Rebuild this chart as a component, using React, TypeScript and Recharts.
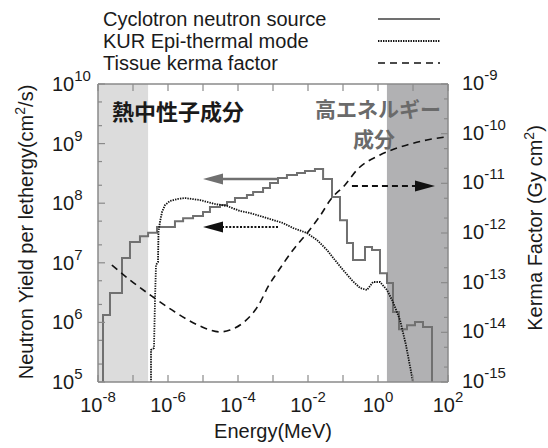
import { LineChart, Line, XAxis, YAxis, ReferenceArea, ReferenceLine } from "recharts";

const FONT = '"Liberation Sans", Arial, Helvetica, sans-serif';
const CJK = '"Noto Sans CJK JP", "Noto Sans CJK SC", sans-serif';
const FRAME = "#8a8a8a";
const FLOOR = 1e4;

const seriesNames = ["Cyclotron neutron source", "KUR Epi-thermal mode", "Tissue kerma factor"];

// cyclotron histogram: bin edges (MeV) and yield per bin
const cyclotronBinEdges = [
  1.39e-8, 2.2e-8, 4.85e-8, 8.2e-8, 1.58e-7, 2.7e-7, 4.85e-7, 1.58e-6, 2.7e-6, 5.2e-6,
  1e-5, 1.58e-5, 3.06e-5, 4.85e-5, 8.2e-5, 1.8e-4, 2.7e-4, 5.2e-4, 8.2e-4, 1.39e-3,
  2.5e-3, 4.85e-3, 8.2e-3, 1.58e-2, 2.7e-2, 4.85e-2, 8.2e-2, 0.13, 0.193, 0.425,
  0.675, 1.14, 1.81, 2.68, 3.98, 6.74, 11.4, 19.3, 34.9,
];
const cyclotronYield = [
  1.33e6, 3.1e6, 1.2e7, 2.23e7, 2.8e7, 3.2e7, 4.0e7, 5.0e7, 5.6e7, 6.1e7,
  7.1e7, 8.6e7, 9.3e7, 1.05e8, 1.22e8, 1.37e8, 1.54e8, 1.8e8, 2.18e8, 2.65e8,
  2.97e8, 3.2e8, 3.47e8, 3.75e8, 2.55e8, 1.27e8, 5.2e7, 2.15e7, 1.11e7, 1.84e7,
  1.64e7, 6.7e6, 4.6e6, 1.49e6, 7.7e5, 9.0e5, 1.02e6, 8.4e5,
];

const kurEnergy = [
  3.27e-7, 3.27e-7, 3.98e-7, 4.25e-7, 4.54e-7, 5.18e-7, 5.35e-7, 5.9e-7, 6.74e-7, 8.2e-7,
  1.14e-6, 1.93e-6, 3.06e-6, 8.2e-6, 2.2e-5, 4.85e-5, 1.14e-4, 2.2e-4, 4.25e-4, 8.2e-4,
  1.93e-3, 3.73e-3, 9.36e-3, 1.8e-2, 3.49e-2, 5.9e-2, 0.1, 0.18, 0.306, 0.485,
  0.72, 1.14, 1.81, 2.68, 4.25, 6.3, 10, 12.2,
];
const kurYield = [
  6e4, 3.44e5, 3.72e5, 2.38e6, 9.2e6, 1.03e7, 3.29e7, 4.84e7, 7.1e7, 9.3e7,
  1.09e8, 1.18e8, 1.22e8, 1.13e8, 9.7e7, 8.98e7, 7.4e7, 6.85e7, 6.1e7, 5.43e7,
  4.65e7, 3.84e7, 3.16e7, 2.41e7, 1.64e7, 1.11e7, 7.6e6, 5.1e6, 3.78e6, 3.5e6,
  4.76e6, 4.76e6, 3.5e6, 2.2e6, 1.1e6, 4.17e5, 1e5, 6e4,
];

const kermaEnergy = [
  2.5e-8, 8.2e-8, 3.73e-7, 1.58e-6, 8.2e-6, 3.06e-5, 5.9e-5, 1.48e-4, 3.73e-4, 7.7e-4,
  1.3e-3, 3.73e-3, 1e-2, 2.2e-2, 4.54e-2, 0.114, 0.25, 1.14, 6.74, 25, 87.7,
];
const kermaFactor = [
  2.27e-13, 1.13e-13, 5.15e-14, 2.57e-14, 1.34e-14, 1.02e-14, 1.11e-14, 1.61e-14, 3.39e-14, 8.97e-14,
  1.57e-13, 4.55e-13, 1.05e-12, 2.2e-12, 4.84e-12, 9.27e-12, 1.86e-11, 3.72e-11, 5.91e-11, 7.46e-11,
  8.57e-11,
];

const energyTicks = [1e-8, 1e-7, 1e-6, 1e-5, 1e-4, 1e-3, 1e-2, 1e-1, 1, 10, 100];
const yieldTicks = [
  1e5, 2e5, 5e5, 1e6, 2e6, 5e6, 1e7, 2e7, 5e7, 1e8, 2e8, 5e8, 1e9, 2e9, 5e9, 1e10,
];
const kermaTicks = [
  1e-15, 2e-15, 5e-15, 1e-14, 2e-14, 5e-14, 1e-13, 2e-13, 5e-13, 1e-12, 2e-12, 5e-12,
  1e-11, 2e-11, 5e-11, 1e-10, 2e-10, 5e-10, 1e-9,
];

const thermalBand = [1e-8, 2.7e-7];
const fastBand = [1.8, 100];

// arrows: [from energy, to energy, level]
const yieldArrow = [1.39e-3, 1e-5, 2.55e8];
const kurArrow = [1.39e-3, 1e-5, 4e7];
const kermaArrow = [0.18, 42.5, 8.8e-12];

const cyclotronData = [
  { e: cyclotronBinEdges[0], y: FLOOR },
  ...cyclotronYield.map((v, i) => ({ e: cyclotronBinEdges[i], y: v })),
  { e: cyclotronBinEdges[cyclotronYield.length], y: cyclotronYield[cyclotronYield.length - 1] },
  { e: cyclotronBinEdges[cyclotronYield.length], y: FLOOR },
];
const kurData = kurEnergy.map((e, i) => ({ e, y: kurYield[i] }));
const kermaData = kermaEnergy.map((e, i) => ({ e, y: kermaFactor[i] }));

const expOf = (v: number) => Math.round(Math.log10(v));
const isDecade = (v: number) => Math.abs(Math.log10(v) - expOf(v)) < 1e-6;

function Pow({ x, y, exp, anchor }: any) {
  return (
    <text x={x} y={y} textAnchor={anchor} fontSize={20} fill="#1a1a1a">
      10
      <tspan dy={-10} fontSize={15}>
        {String(exp)}
      </tspan>
    </text>
  );
}

function BottomTick({ x, y, payload }: any) {
  const exp = expOf(payload.value);
  return (
    <g>
      <line x1={x} x2={x} y1={y} y2={y - 7} stroke={FRAME} strokeWidth={1.2} />
      {exp % 2 === 0 && <Pow x={x} y={y + 30} exp={exp} anchor="middle" />}
    </g>
  );
}

function TopTick({ x, y }: any) {
  return <line x1={x} x2={x} y1={y} y2={y + 7} stroke={FRAME} strokeWidth={1.2} />;
}

function LeftTick({ x, y, payload }: any) {
  const major = isDecade(payload.value);
  return (
    <g>
      <line x1={x} x2={x + (major ? 7 : 4)} y1={y} y2={y} stroke={FRAME} strokeWidth={1.2} />
      {major && <Pow x={x - 46} y={y + 7} exp={expOf(payload.value)} anchor="start" />}
    </g>
  );
}

function RightTick({ x, y, payload }: any) {
  const major = isDecade(payload.value);
  return (
    <g>
      <line x1={x} x2={x - (major ? 7 : 4)} y1={y} y2={y} stroke={FRAME} strokeWidth={1.2} />
      {major && <Pow x={x + 14} y={y + 6} exp={expOf(payload.value)} anchor="start" />}
    </g>
  );
}

function arrowShape(color: string, dash: string | undefined, width: number) {
  return (props: any) => {
    const { x1, y1, x2, y2 } = props;
    const dir = Math.sign(x2 - x1);
    const bx = x2 - dir * 20;
    return (
      <g>
        <line x1={x1} y1={y1} x2={bx} y2={y2} stroke={color} strokeWidth={width} strokeDasharray={dash} />
        <polygon points={`${x2},${y2} ${bx},${y2 - 5.5} ${bx},${y2 + 5.5}`} fill={color} />
      </g>
    );
  };
}

const legendStyles = [
  { stroke: "#707070", dash: undefined, width: 2 },
  { stroke: "#111", dash: "1.4 1.1", width: 1.8 },
  { stroke: "#111", dash: "7 5", width: 1.6 },
];

export default function App() {
  return (
    <div style={{ position: "relative", width: 548, height: 448, overflow: "hidden", fontFamily: FONT, color: "#1a1a1a" }}>
      <style>{"body{margin:0}"}</style>
      <LineChart width={548} height={448} margin={{ top: 64, right: 40, bottom: 26, left: 38 }}>
        <XAxis
          dataKey="e"
          type="number"
          scale="log"
          domain={[1e-8, 100]}
          allowDataOverflow
          ticks={energyTicks}
          interval={0}
          height={40}
          tickSize={0}
          tickMargin={0}
          tickLine={false}
          tick={<BottomTick />}
          axisLine={{ stroke: FRAME, strokeWidth: 1.5 }}
        />
        <XAxis
          xAxisId="top"
          orientation="top"
          dataKey="e"
          type="number"
          scale="log"
          domain={[1e-8, 100]}
          allowDataOverflow
          ticks={energyTicks}
          interval={0}
          height={20}
          tickSize={0}
          tickMargin={0}
          tickLine={false}
          tick={<TopTick />}
          axisLine={{ stroke: FRAME, strokeWidth: 1.5 }}
        />
        <YAxis
          yAxisId="left"
          type="number"
          scale="log"
          domain={[1e5, 1e10]}
          allowDataOverflow
          ticks={yieldTicks}
          interval={0}
          width={60}
          tickSize={0}
          tickMargin={0}
          tickLine={false}
          tick={<LeftTick />}
          axisLine={{ stroke: FRAME, strokeWidth: 1.5 }}
        />
        <YAxis
          yAxisId="right"
          orientation="right"
          type="number"
          scale="log"
          domain={[1e-15, 1e-9]}
          allowDataOverflow
          ticks={kermaTicks}
          interval={0}
          width={60}
          tickSize={0}
          tickMargin={0}
          tickLine={false}
          tick={<RightTick />}
          axisLine={{ stroke: FRAME, strokeWidth: 1.5 }}
        />
        <ReferenceArea yAxisId="left" x1={thermalBand[0]} x2={thermalBand[1]} fill="#dcdcdc" fillOpacity={1} stroke="none" />
        <ReferenceArea yAxisId="left" x1={fastBand[0]} x2={fastBand[1]} fill="#b1b1b3" fillOpacity={1} stroke="none" />
        <Line
          yAxisId="left"
          data={cyclotronData}
          dataKey="y"
          type="stepAfter"
          stroke="#707070"
          strokeWidth={2}
          dot={false}
          activeDot={false}
          isAnimationActive={false}
        />
        <Line
          yAxisId="left"
          data={kurData}
          dataKey="y"
          type="linear"
          stroke="#111"
          strokeWidth={1.8}
          strokeDasharray="1.4 1.1"
          dot={false}
          activeDot={false}
          isAnimationActive={false}
        />
        <Line
          yAxisId="right"
          data={kermaData}
          dataKey="y"
          type="monotone"
          stroke="#111"
          strokeWidth={1.6}
          strokeDasharray="7 5"
          dot={false}
          activeDot={false}
          isAnimationActive={false}
        />
        <ReferenceLine
          yAxisId="left"
          segment={[{ x: yieldArrow[0], y: yieldArrow[2] }, { x: yieldArrow[1], y: yieldArrow[2] }]}
          shape={arrowShape("#707070", undefined, 2.5)}
        />
        <ReferenceLine
          yAxisId="left"
          segment={[{ x: kurArrow[0], y: kurArrow[2] }, { x: kurArrow[1], y: kurArrow[2] }]}
          shape={arrowShape("#111", "2 1.6", 2)}
        />
        <ReferenceLine
          yAxisId="right"
          segment={[{ x: kermaArrow[0], y: kermaArrow[2] }, { x: kermaArrow[1], y: kermaArrow[2] }]}
          shape={arrowShape("#111", "6 4", 2)}
        />
      </LineChart>

      {seriesNames.map((name, i) => (
        <div key={name} style={{ position: "absolute", left: 103, top: 8 + i * 22, height: 22, lineHeight: "22px", fontSize: 20, whiteSpace: "nowrap" }}>
          {name}
        </div>
      ))}
      <svg style={{ position: "absolute", left: 378, top: 8 }} width={64} height={66}>
        {legendStyles.map((s, i) => (
          <line key={i} x1={0} x2={62} y1={11 + i * 22} y2={11 + i * 22} stroke={s.stroke} strokeWidth={s.width} strokeDasharray={s.dash} />
        ))}
      </svg>

      <div style={{ position: "absolute", left: 112, top: 99, fontFamily: CJK, fontWeight: 700, fontSize: 22, lineHeight: "22px", color: "#1a1a1a", whiteSpace: "nowrap" }}>
        熱中性子成分
      </div>
      <div style={{ position: "absolute", left: 315, top: 98, fontFamily: CJK, fontWeight: 700, fontSize: 21, lineHeight: "21px", color: "#6a6a6a", whiteSpace: "nowrap" }}>
        高エネルギー
      </div>
      <div style={{ position: "absolute", left: 353, top: 128, fontFamily: CJK, fontWeight: 700, fontSize: 21, lineHeight: "21px", color: "#6a6a6a", whiteSpace: "nowrap" }}>
        成分
      </div>

      <div style={{ position: "absolute", left: 273, top: 420, transform: "translateX(-50%)", fontSize: 20, lineHeight: "22px", whiteSpace: "nowrap" }}>
        Energy(MeV)
      </div>
      <div style={{ position: "absolute", left: 23, top: 232, transform: "translate(-50%, -50%) rotate(-90deg)", fontSize: 20, lineHeight: "22px", whiteSpace: "nowrap" }}>
        Neutron Yield per lethergy(cm<span style={{ fontSize: 14, verticalAlign: "8px" }}>2</span>/s)
      </div>
      <div style={{ position: "absolute", left: 532, top: 228, transform: "translate(-50%, -50%) rotate(-90deg)", fontSize: 20, lineHeight: "22px", whiteSpace: "nowrap" }}>
        Kerma Factor (Gy cm<span style={{ fontSize: 14, verticalAlign: "8px" }}>2</span>)
      </div>
    </div>
  );
}
